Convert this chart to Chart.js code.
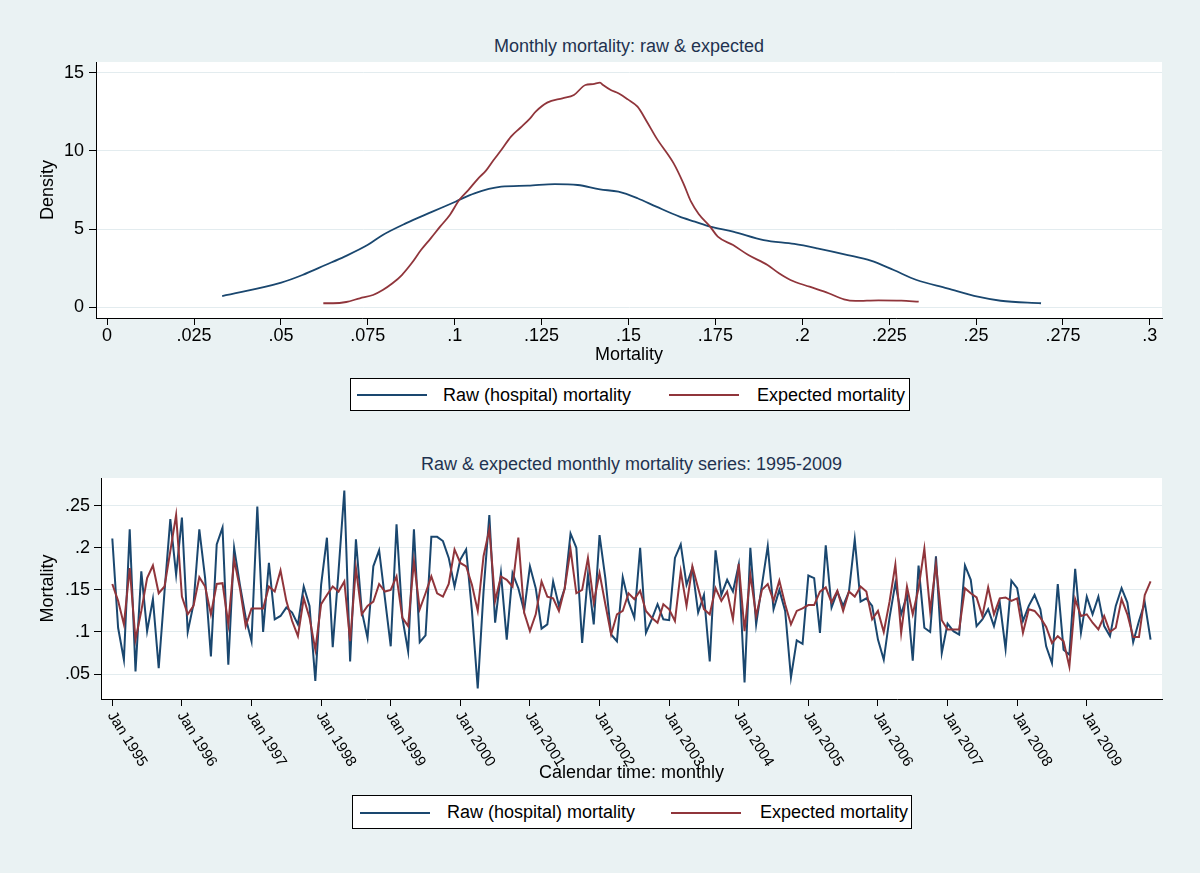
<!DOCTYPE html>
<html>
<head>
<meta charset="utf-8">
<title>Monthly mortality: raw &amp; expected</title>
<script src="https://cdn.jsdelivr.net/npm/chart.js@4.4.1/dist/chart.umd.min.js"></script>
<style>
  html, body { margin: 0; padding: 0; background: #eaf2f3; }
  body { width: 1200px; height: 873px; position: relative; overflow: hidden;
         font-family: "Liberation Sans", Arial, Helvetica, sans-serif; }
  canvas { position: absolute; left: 0; }
  #densCanvas { top: 0; }
  #seriesCanvas { top: 440px; }
  .title { position: absolute; text-align: center; font-size: 18px; line-height: 20px;
           color: #1f3250; white-space: nowrap; }
  .legend { position: absolute; width: 558px; height: 31px; background: #fff;
            border: 1px solid #000; font-size: 18px; }
  .legend .key { position: absolute; top: 15px; width: 70px; height: 2px; }
  .legend .lab { position: absolute; top: 6px; line-height: 20px; color: #000; white-space: nowrap; }
</style>
</head>
<body>

<div class="title" style="left:96px; width:1066px; top:36px;">Monthly mortality: raw &amp; expected</div>
<canvas id="densCanvas" width="1200" height="440"></canvas>
<div class="legend" style="left:350px; top:378px;">
  <span class="key" style="left:6px; background:#1a476f;"></span>
  <span class="lab" style="left:92px;">Raw (hospital) mortality</span>
  <span class="key" style="left:318px; background:#90353b;"></span>
  <span class="lab" style="left:406px;">Expected mortality</span>
</div>

<div class="title" style="left:101px; width:1061px; top:454px;">Raw &amp; expected monthly mortality series: 1995-2009</div>
<canvas id="seriesCanvas" width="1200" height="433"></canvas>
<div class="legend" style="left:352px; top:795px; height:32px;">
  <span class="key" style="left:7px; top:16px; background:#1a476f;"></span>
  <span class="lab" style="left:94px;">Raw (hospital) mortality</span>
  <span class="key" style="left:318px; top:16px; background:#90353b;"></span>
  <span class="lab" style="left:407px;">Expected mortality</span>
</div>

<script>
/* ---- colours / fonts (Stata s2color look) ---- */
const FONT   = '"Liberation Sans", Arial, Helvetica, sans-serif';
const NAVY   = '#1a476f';
const MAROON = '#90353b';
const GRID   = '#e3ecef';
const INK    = '#000';

/* ---- panel 1: kernel densities ---- */
const DENS_RAW_X = [0.0331, 0.0501, 0.0562, 0.0628, 0.0683, 0.0749, 0.0793, 0.0859, 0.0936, 0.1002,
                    0.1057, 0.1134, 0.1211, 0.1288, 0.1354, 0.1418, 0.1471, 0.1526, 0.1580, 0.1647,
                    0.1691, 0.1735, 0.1801, 0.1889, 0.1977, 0.2043, 0.2131, 0.2197, 0.2263, 0.2329,
                    0.2417, 0.2505, 0.2571, 0.2687];
const DENS_RAW_Y = [0.70, 1.56, 2.05, 2.69, 3.23, 3.97, 4.62, 5.36, 6.11, 6.75,
                    7.29, 7.71, 7.78, 7.88, 7.82, 7.54, 7.39, 6.97, 6.43, 5.79,
                    5.47, 5.15, 4.83, 4.29, 4.04, 3.76, 3.33, 2.97, 2.37, 1.73,
                    1.20, 0.66, 0.40, 0.24];

const DENS_EXP_X = [0.0622, 0.0650, 0.0688, 0.0727, 0.0765, 0.0793, 0.0821, 0.0848, 0.0876, 0.0903,
                    0.0931, 0.0958, 0.0986, 0.1013, 0.1041, 0.1068, 0.1090, 0.1112, 0.1134, 0.1162,
                    0.1189, 0.1217, 0.1233, 0.1266, 0.1310, 0.1343, 0.1376, 0.1398, 0.1418, 0.1427,
                    0.1449, 0.1471, 0.1498, 0.1526, 0.1553, 0.1581, 0.1630, 0.1658, 0.1680, 0.1702,
                    0.1735, 0.1757, 0.1801, 0.1845, 0.1900, 0.1933, 0.1966, 0.2021, 0.2076, 0.2120,
                    0.2153, 0.2219, 0.2285, 0.2335];
const DENS_EXP_Y = [0.24, 0.24, 0.32, 0.56, 0.77, 1.09, 1.52, 2.05, 2.80, 3.65,
                    4.40, 5.15, 5.90, 6.86, 7.54, 8.25, 8.74, 9.42, 10.06, 10.92,
                    11.49, 12.09, 12.52, 13.10, 13.38, 13.59, 14.23, 14.29, 14.38, 14.23,
                    13.91, 13.70, 13.31, 12.84, 11.88, 10.81, 9.21, 7.93, 6.75, 5.96,
                    5.15, 4.51, 3.97, 3.33, 2.69, 2.16, 1.73, 1.30, 0.88, 0.49,
                    0.39, 0.43, 0.41, 0.34];

const DENS_X_TICKS  = [0, 0.025, 0.05, 0.075, 0.1, 0.125, 0.15, 0.175, 0.2, 0.225, 0.25, 0.275, 0.3];
const DENS_X_LABELS = ['0', '.025', '.05', '.075', '.1', '.125', '.15', '.175', '.2', '.225', '.25', '.275', '.3'];
const DENS_Y_TICKS  = [0, 5, 10, 15];
const DENS_Y_LABELS = ['0', '5', '10', '15'];

/* ---- panel 2: monthly series Jan 1995 .. Dec 2009 ---- */
const RAW_SERIES = [
  0.211, 0.105, 0.067, 0.222, 0.053, 0.172, 0.101, 0.139, 0.057, 0.148,
  0.234, 0.168, 0.236, 0.100, 0.133, 0.222, 0.164, 0.071, 0.204, 0.224,
  0.061, 0.200, 0.156, 0.117, 0.089, 0.249, 0.100, 0.182, 0.115, 0.119,
  0.129, 0.123, 0.109, 0.154, 0.131, 0.042, 0.156, 0.212, 0.082, 0.172,
  0.268, 0.065, 0.210, 0.125, 0.093, 0.178, 0.197, 0.140, 0.083, 0.228,
  0.117, 0.077, 0.222, 0.088, 0.096, 0.213, 0.213, 0.208, 0.188, 0.154,
  0.186, 0.198, 0.125, 0.033, 0.148, 0.239, 0.111, 0.170, 0.091, 0.170,
  0.152, 0.125, 0.178, 0.152, 0.104, 0.109, 0.160, 0.131, 0.152, 0.217,
  0.200, 0.087, 0.168, 0.109, 0.215, 0.164, 0.097, 0.089, 0.165, 0.136,
  0.117, 0.200, 0.099, 0.115, 0.133, 0.115, 0.114, 0.188, 0.204, 0.156,
  0.176, 0.123, 0.144, 0.065, 0.197, 0.144, 0.162, 0.148, 0.180, 0.040,
  0.200, 0.109, 0.156, 0.202, 0.127, 0.150, 0.125, 0.046, 0.090, 0.086,
  0.167, 0.164, 0.099, 0.203, 0.129, 0.148, 0.131, 0.148, 0.210, 0.136,
  0.140, 0.131, 0.091, 0.067, 0.117, 0.158, 0.121, 0.144, 0.066, 0.179,
  0.105, 0.100, 0.190, 0.075, 0.110, 0.101, 0.097, 0.179, 0.162, 0.107,
  0.115, 0.127, 0.107, 0.135, 0.080, 0.161, 0.152, 0.113, 0.131, 0.144,
  0.127, 0.083, 0.063, 0.157, 0.079, 0.073, 0.175, 0.099, 0.142, 0.121,
  0.142, 0.107, 0.095, 0.131, 0.152, 0.135, 0.088, 0.113, 0.135, 0.091
];
const EXP_SERIES = [
  0.157, 0.137, 0.109, 0.176, 0.091, 0.125, 0.164, 0.179, 0.146, 0.154,
  0.196, 0.239, 0.142, 0.121, 0.131, 0.165, 0.154, 0.121, 0.157, 0.158,
  0.109, 0.186, 0.152, 0.107, 0.128, 0.128, 0.128, 0.154, 0.148, 0.173,
  0.137, 0.113, 0.095, 0.140, 0.117, 0.079, 0.133, 0.144, 0.154, 0.148,
  0.160, 0.089, 0.176, 0.121, 0.131, 0.136, 0.157, 0.148, 0.150, 0.166,
  0.117, 0.107, 0.184, 0.127, 0.146, 0.166, 0.146, 0.142, 0.157, 0.198,
  0.182, 0.178, 0.156, 0.125, 0.190, 0.222, 0.137, 0.166, 0.162, 0.154,
  0.212, 0.123, 0.101, 0.121, 0.160, 0.142, 0.140, 0.125, 0.152, 0.198,
  0.146, 0.150, 0.188, 0.135, 0.170, 0.133, 0.097, 0.121, 0.125, 0.146,
  0.139, 0.149, 0.125, 0.117, 0.111, 0.133, 0.127, 0.113, 0.172, 0.131,
  0.178, 0.152, 0.127, 0.121, 0.152, 0.137, 0.148, 0.115, 0.181, 0.101,
  0.168, 0.119, 0.150, 0.157, 0.137, 0.161, 0.133, 0.109, 0.125, 0.128,
  0.132, 0.132, 0.148, 0.153, 0.135, 0.149, 0.125, 0.148, 0.142, 0.154,
  0.148, 0.115, 0.125, 0.100, 0.136, 0.180, 0.099, 0.154, 0.121, 0.152,
  0.199, 0.125, 0.180, 0.114, 0.103, 0.103, 0.103, 0.152, 0.146, 0.141,
  0.119, 0.153, 0.121, 0.140, 0.141, 0.137, 0.140, 0.099, 0.127, 0.125,
  0.117, 0.106, 0.087, 0.095, 0.089, 0.059, 0.139, 0.119, 0.121, 0.111,
  0.103, 0.119, 0.100, 0.105, 0.139, 0.121, 0.094, 0.094, 0.144, 0.160
];
const YEAR_LABELS = ['Jan 1995', 'Jan 1996', 'Jan 1997', 'Jan 1998', 'Jan 1999', 'Jan 2000', 'Jan 2001',
                     'Jan 2002', 'Jan 2003', 'Jan 2004', 'Jan 2005', 'Jan 2006', 'Jan 2007', 'Jan 2008', 'Jan 2009'];
const MORT_Y_TICKS  = [0.05, 0.1, 0.15, 0.2, 0.25];
const MORT_Y_LABELS = ['.05', '.1', '.15', '.2', '.25'];

/* ---- shared bits ---- */
Chart.defaults.font.family = FONT;
Chart.defaults.font.size   = 18;
Chart.defaults.color       = INK;

// white plot region on the tinted graph region
const plotBg = {
    id: 'plotBg',
    beforeDraw(chart) {
        const { ctx, chartArea: a } = chart;
        ctx.save();
        ctx.fillStyle = '#fff';
        ctx.fillRect(a.left, a.top, a.right - a.left, a.bottom - a.top);
        ctx.restore();
    },
};

// Stata-style slanted date labels (rotated clockwise, starting at the tick)
const yearLabels = {
    id: 'yearLabels',
    afterDraw(chart) {
        const sx  = chart.scales.x;
        const ctx = chart.ctx;
        ctx.save();
        ctx.font = '15px ' + FONT;
        ctx.fillStyle = INK;
        ctx.textAlign = 'left';
        ctx.textBaseline = 'middle';
        YEAR_LABELS.forEach((lab, k) => {
            const px = sx.getPixelForValue(k * 12);
            ctx.save();
            ctx.translate(px - 1.5, sx.top + 14);
            ctx.rotate(58 * Math.PI / 180);
            ctx.fillText(lab, 0, 0);
            ctx.restore();
        });
        ctx.restore();
    },
};

const AXIS_BORDER = { display: true, color: INK, width: 1 };

/* ---- panel 1 ---- */
new Chart(document.getElementById('densCanvas'), {
    type: 'line',
    data: {
        datasets: [
            {
                label: 'Raw (hospital) mortality',
                data: DENS_RAW_X.map((x, i) => ({ x, y: DENS_RAW_Y[i] })),
                borderColor: NAVY, borderWidth: 1.8,
                pointRadius: 0, cubicInterpolationMode: 'monotone', fill: false, order: 1,
            },
            {
                label: 'Expected mortality',
                data: DENS_EXP_X.map((x, i) => ({ x, y: DENS_EXP_Y[i] })),
                borderColor: MAROON, borderWidth: 1.8,
                pointRadius: 0, cubicInterpolationMode: 'monotone', fill: false, order: 0,
            },
        ],
    },
    options: {
        responsive: false,
        animation: false,
        events: [],
        layout: { padding: { top: 62, right: 38, bottom: 74.2, left: 37.7 } },
        plugins: { legend: { display: false }, tooltip: { enabled: false } },
        scales: {
            x: {
                type: 'linear', min: -0.0032, max: 0.3035,
                afterBuildTicks: s => { s.ticks = DENS_X_TICKS.map(v => ({ value: v })); },
                afterFit: s => { s.height = 47.8; },
                grid: { drawOnChartArea: false, drawTicks: true, tickLength: 7, tickColor: INK, tickWidth: 1 },
                border: AXIS_BORDER,
                ticks: { padding: 0, maxRotation: 0, autoSkip: false, callback: (v, i) => DENS_X_LABELS[i] },
                title: { display: true, text: 'Mortality', padding: 0 },
            },
            y: {
                type: 'linear', min: -0.705, max: 15.705,
                afterBuildTicks: s => { s.ticks = DENS_Y_TICKS.map(v => ({ value: v })); },
                afterFit: s => { s.width = 96 - 37.7; },
                grid: { color: GRID, lineWidth: 1, drawTicks: true, tickLength: 7, tickColor: INK, tickWidth: 1 },
                border: AXIS_BORDER,
                ticks: { padding: 5, callback: (v, i) => DENS_Y_LABELS[i] },
                title: { display: true, text: 'Density', padding: 0 },
            },
        },
    },
    plugins: [plotBg],
});

/* ---- panel 2 ---- */
new Chart(document.getElementById('seriesCanvas'), {
    type: 'line',
    data: {
        datasets: [
            {
                label: 'Raw (hospital) mortality',
                data: RAW_SERIES.map((v, i) => ({ x: i, y: v })),
                borderColor: NAVY, borderWidth: 2, pointRadius: 0, tension: 0, fill: false, order: 1,
            },
            {
                label: 'Expected mortality',
                data: EXP_SERIES.map((v, i) => ({ x: i, y: v })),
                borderColor: MAROON, borderWidth: 2, pointRadius: 0, tension: 0, fill: false, order: 0,
            },
        ],
    },
    options: {
        responsive: false,
        animation: false,
        events: [],
        layout: { padding: { top: 38, right: 38, bottom: 89.2, left: 37.2 } },
        plugins: { legend: { display: false }, tooltip: { enabled: false } },
        scales: {
            x: {
                type: 'linear', min: -1.95, max: 180.97,
                afterBuildTicks: s => { s.ticks = YEAR_LABELS.map((_, k) => ({ value: k * 12 })); },
                afterFit: s => { s.height = 84.8; },
                grid: { drawOnChartArea: false, drawTicks: true, tickLength: 7, tickColor: INK, tickWidth: 1 },
                border: AXIS_BORDER,
                ticks: { display: false },
                title: { display: true, text: 'Calendar time: monthly', padding: 0 },
            },
            y: {
                type: 'linear', min: 0.0204, max: 0.2829,
                afterBuildTicks: s => { s.ticks = MORT_Y_TICKS.map(v => ({ value: v })); },
                afterFit: s => { s.width = 101 - 37.2; },
                grid: { color: GRID, lineWidth: 1, drawTicks: true, tickLength: 7, tickColor: INK, tickWidth: 1 },
                border: AXIS_BORDER,
                ticks: { padding: 4, callback: (v, i) => MORT_Y_LABELS[i] },
                title: { display: true, text: 'Mortality', padding: 0 },
            },
        },
    },
    plugins: [plotBg, yearLabels],
});
</script>
</body>
</html>
